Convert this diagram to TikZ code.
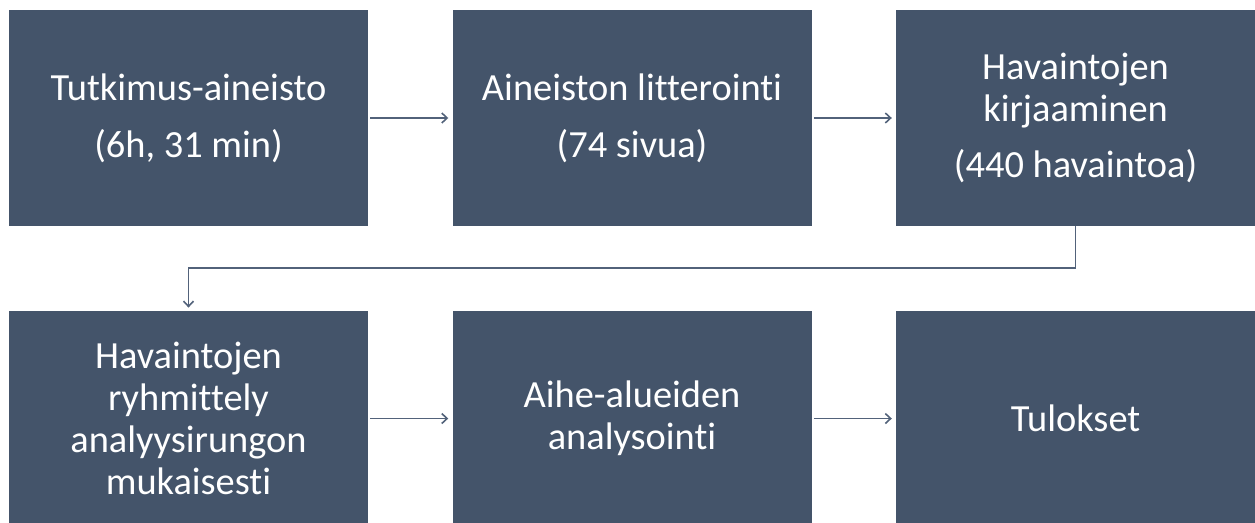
\documentclass[tikz,border=0pt]{standalone}
\usepackage{fontspec}
\setmainfont{Carlito}[Ligatures={NoCommon}]
\usetikzlibrary{arrows.meta,calc,positioning}
\definecolor{laatikko}{HTML}{44546A}
\definecolor{viiva}{HTML}{52627A}
\tikzstyle{vaihe}=[fill=laatikko,minimum width=269.25pt,minimum height=162pt,inner sep=0pt,text=white,align=center,font=\fontsize{28.8}{31.5}\selectfont]
\tikzstyle{nuoli}=[->,draw=viiva,line width=1.2pt]

\begin{document}
\begin{tikzpicture}[
      x=0.75pt,y=0.75pt,
      >={Straight Barb[length=4pt,width=7.5pt]}
    ]
      \useasboundingbox (0,0) rectangle (1255,522);
      \node [vaihe] (aineisto) at (188.5,404) {Tutkimus-aineisto\\[11pt](6h, 31 min)};
      \node [vaihe] (litt) [node distance=63pt,right=of aineisto] {Aineiston litterointi\\[11pt](74 sivua)};
      \node [vaihe] (kirj) [node distance=63pt,right=of litt] {Havaintojen\\kirjaaminen\\[11pt](440 havaintoa)};

      \node [vaihe] (ryhm) [node distance=63pt,below=of aineisto] {Havaintojen\\ryhmittely\\analyysirungon\\mukaisesti};
      \node [vaihe] (anal) [node distance=63pt,right=of ryhm] {Aihe-alueiden\\analysointi};
      \node [vaihe] (tulos) [node distance=63pt,right=of anal] {Tulokset};

      \draw[nuoli,shorten <=1.5pt,shorten >=3pt] (aineisto) -- (litt);
      \draw[nuoli,shorten <=1.5pt,shorten >=3pt] (litt) -- (kirj);
      \draw[nuoli,shorten >=2pt] (kirj.south) -- ++(0,-42) -| (ryhm.north);
      \draw[nuoli,shorten <=1.5pt,shorten >=3pt] (ryhm) -- (anal);
      \draw[nuoli,shorten <=1.5pt,shorten >=3pt] (anal) -- (tulos);
\end{tikzpicture}
\end{document}
